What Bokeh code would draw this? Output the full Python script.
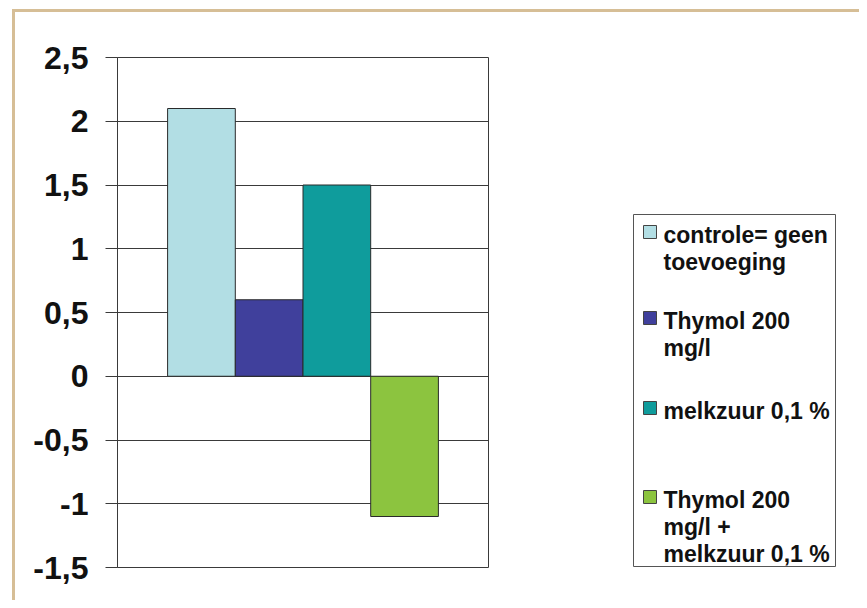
from bokeh.plotting import figure
from bokeh.layouts import row
from bokeh.models import Range1d, FixedTicker, ColumnDataSource
from bokeh.core.properties import value
from bokeh.embed import file_html
from bokeh.resources import INLINE

# ---- data ----
categories = ["controle= geen toevoeging", "Thymol 200 mg/l",
              "melkzuur 0,1 %", "Thymol 200 mg/l + melkzuur 0,1 %"]
legend_lines = [["controle= geen", "toevoeging"],
                ["Thymol 200", "mg/l"],
                ["melkzuur 0,1 %"],
                ["Thymol 200", "mg/l +", "melkzuur 0,1 %"]]
values = [2.1, 0.6, 1.5, -1.1]
colors = ["#b2dee4", "#40409c", "#0f9c9c", "#8cc43f"]
y_ticks = [-1.5, -1.0, -0.5, 0.0, 0.5, 1.0, 1.5, 2.0, 2.5]
y_tick_labels = ["-1,5", "-1", "-0,5", "0", "0,5", "1", "1,5", "2", "2,5"]

FONT = "Liberation Sans"
LINE = "#3a3a3a"
BORDER_TOP, BORDER_BOTTOM = 45, 33
FRAME_H = 510

# ---- main chart ----
pad = 0.74
xs = [pad + 0.5 + i for i in range(len(values))]
src = ColumnDataSource(dict(x=xs, top=values, color=colors, cat=categories))

p = figure(frame_width=371, frame_height=FRAME_H,
           min_border_left=102, min_border_right=72,
           min_border_top=BORDER_TOP, min_border_bottom=BORDER_BOTTOM,
           x_range=Range1d(0, 2 * pad + len(values)),
           y_range=Range1d(y_ticks[0], y_ticks[-1]),
           output_backend="svg", toolbar_location=None)
p.vbar(x="x", top="top", bottom=0, width=1, fill_color="color",
       line_color="#2a2a2a", line_width=1, source=src)

p.xaxis.visible = False
p.xgrid.visible = False
p.ygrid.ticker = FixedTicker(ticks=y_ticks)
p.ygrid.grid_line_color = LINE
p.ygrid.grid_line_width = 1
p.ygrid.grid_line_alpha = 1.0

ax = p.yaxis[0]
ax.ticker = FixedTicker(ticks=y_ticks)
ax.major_label_overrides = {t: l for t, l in zip(y_ticks, y_tick_labels)}
ax.major_tick_out = 12
ax.major_tick_in = 0
ax.minor_tick_out = 0
ax.minor_tick_in = 0
ax.axis_line_color = LINE
ax.major_tick_line_color = LINE
ax.major_label_standoff = 17
ax.major_label_text_font = FONT
ax.major_label_text_font_style = "bold"
ax.major_label_text_font_size = "32px"
ax.major_label_text_color = "#111111"

p.outline_line_color = LINE
p.outline_line_alpha = 1.0
p.background_fill_color = "white"
p.border_fill_color = "white"

# ---- legend panel (page-pixel coordinates; frame aligned with main frame) ----
LX0, LX1 = 560, 859
FY0 = 12 + BORDER_TOP
FY1 = FY0 + FRAME_H
q = figure(frame_width=LX1 - LX0, frame_height=FRAME_H,
           x_range=Range1d(LX0, LX1), y_range=Range1d(FY1, FY0),
           min_border_left=0, min_border_right=0,
           min_border_top=BORDER_TOP, min_border_bottom=BORDER_BOTTOM,
           output_backend="svg", toolbar_location=None)
q.axis.visible = False
q.grid.visible = False
q.outline_line_color = None
q.border_fill_color = "white"
q.background_fill_color = "white"

q.quad(left=633, right=835, top=214, bottom=566, fill_color="white",
       line_color="#555555", line_width=1)

first_baselines = [242, 328, 418, 507]
line_gap = 27
text_shift = 8
sw_l, sw_r = 643, 656
tx, ty, tt = [], [], []
for lines, b, c in zip(legend_lines, first_baselines, colors):
    q.quad(left=sw_l, right=sw_r, top=b - 17, bottom=b - 4,
           fill_color=c, line_color="#444444", line_width=1)
    for k, ln in enumerate(lines):
        tx.append(663)
        ty.append(b + k * line_gap - text_shift)
        tt.append(ln)
q.text(x=tx, y=ty, text=tt, text_font=value(FONT), text_font_style="bold",
       text_font_size="23px", text_baseline="alphabetic", text_align="left",
       text_color="#111111")

layout = row(p, q)
layout.margin = (9, 0, 0, 12)
layout.styles = {"border-top": "3px solid #d6be96",
                 "border-left": "3px solid #d6be96"}

open("out.html", "w").write(file_html(layout, INLINE))
